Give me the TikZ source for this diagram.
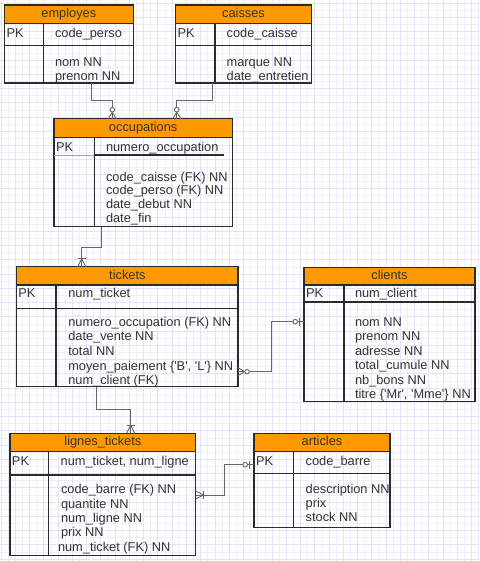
\documentclass[tikz,border=0pt]{standalone}
\usepackage{fontspec}
\newfontfamily\erfont{Liberation Sans}
\definecolor{bordc}{HTML}{2B2B2B}
\definecolor{hdrc}{HTML}{FF9900}
\definecolor{txtc}{HTML}{333333}
\definecolor{connc}{HTML}{666666}
\definecolor{gmajc}{HTML}{E2E2F8}
\definecolor{gminc}{HTML}{EFEFFB}
\tikzset{
  tbl/.style={draw=bordc, line width=1.2pt, inner sep=0pt, outer sep=0pt, anchor=north west},
  hdr/.style={draw=bordc, fill=hdrc, line width=1.2pt, inner sep=0pt, outer sep=0pt, anchor=north west,
    text=txtc, font=\erfont\fontsize{12.8}{14}\selectfont, text height=9.2pt, text depth=2.6pt},
  sep/.style={draw=bordc, line width=1.2pt},
  thinsep/.style={draw=gray!70, line width=0.8pt},
  txt/.style={inner sep=0pt, outer sep=0pt, anchor=base west, text=txtc, font=\erfont\fontsize{12.8}{14}\selectfont},
  conn/.style={draw=connc, line width=0.9pt},
  mk/.style={draw=connc, line width=0.9pt},
  gmaj/.style={draw=gmajc, line width=0.8pt},
  gmin/.style={draw=gminc, line width=0.6pt},
  zmany/.pic={\draw[mk] (0pt,4pt) -- (6.5pt,0pt) -- (0pt,-4pt); \draw[mk, fill=white] (9pt,0pt) circle (2.3pt);},
  omany/.pic={\draw[mk] (0pt,4pt) -- (8pt,0pt) -- (0pt,-4pt); \draw[mk] (8pt,4pt) -- (8pt,-4pt);},
  zone/.pic={\draw[mk] (5pt,4pt) -- (5pt,-4pt); \draw[mk, fill=white] (8.8pt,0pt) circle (2.3pt);},
}
% #1 name, #2 x, #3 y, #4 w, #5 header h, #6 pk bottom, #7 h, #8 divider, #9 title
\newcommand\ertable[9]{%
  \node[tbl, minimum width=#4pt, minimum height=#7pt] (#1) at (#2,#3) {};
  \node[hdr, minimum width=#4pt, minimum height=#5pt] (#1-h) at (#2,#3) {#9};
  \draw[sep] ([yshift=-#6pt]#1.north west) -- ([yshift=-#6pt]#1.north east);
  \draw[sep] ([xshift=#8pt,yshift=-#5pt]#1.north west) -- ([xshift=#8pt]#1.south west);
}
% #1 name prefix, #2 x, #3 y centre of first line, #4 line step, #5 list
\newcommand\attrs[5]{%
  \foreach \myt [count=\myi] in {#5}{\node[txt] (#1-\myi) at (#2,{#3+4.5+(\myi-1)*#4}) {\myt};}%
}
\begin{document}
\begin{tikzpicture}[x=1pt,y=-1pt]
\useasboundingbox (0,0) rectangle (479,561);
\fill[white] (0,0) rectangle (479,561);
% grid
\foreach \gi in {0,...,33}{\draw[gmin] ({8.13+\gi*14.26},0) -- ({8.13+\gi*14.26},561);}
\foreach \gi in {0,...,39}{\draw[gmin] (0,{10.13+\gi*14.26}) -- (479,{10.13+\gi*14.26});}
\foreach \gi in {0,...,33}{\draw[gmaj] ({1+\gi*14.26},0) -- ({1+\gi*14.26},561);}
\foreach \gi in {0,...,39}{\draw[gmaj] (0,{3+\gi*14.26}) -- (479,{3+\gi*14.26});}

% employes
\ertable{emp}{4.3}{5}{129}{18.3}{40.7}{78}{39}{employes}
\node[txt] (emp-pk) at (6.7,37.8) {PK};
\attrs{emp-k}{55}{33.3}{14}{code\_perso}
\attrs{emp-a}{55}{61.7}{14.3}{nom NN, prenom NN}

% caisses
\ertable{cai}{175.7}{5}{135.6}{18.3}{40.5}{78}{39.3}{caisses}
\node[txt] (cai-pk) at (177.7,37.8) {PK};
\attrs{cai-k}{226.7}{33.3}{14}{code\_caisse}
\attrs{cai-a}{226.7}{61.7}{14.3}{marque NN, date\_entretien}

% occupations
\node[tbl, minimum width=178.3pt, minimum height=108pt] (occ) at (54,118.7) {};
\node[hdr, minimum width=178.3pt, minimum height=18.6pt] (occ-h) at (54,118.7) {occupations};
\draw[sep] ([xshift=40.3pt,yshift=-18.6pt]occ.north west) -- ([xshift=40.3pt]occ.south west);
\draw[thinsep] ([yshift=-36.3pt]occ.north west) -- ([xshift=40.3pt,yshift=-36.3pt]occ.north west);
\draw[sep] ([xshift=40.3pt,yshift=-36.3pt]occ.north west) -- ([xshift=170pt,yshift=-36.3pt]occ.north west);
\node[txt] (occ-pk) at (56,151.2) {PK};
\attrs{occ-k}{106}{146.7}{14}{numero\_occupation}
\attrs{occ-a}{106}{176.7}{13.7}{code\_caisse (FK) NN, code\_perso (FK) NN, date\_debut NN, date\_fin}

% tickets
\ertable{tk}{16.7}{266.7}{221.3}{18.3}{41.6}{120}{39.3}{tickets}
\node[txt] (tk-pk) at (18.3,297.8) {PK};
\attrs{tk-k}{68.3}{293.3}{14}{num\_ticket}
\attrs{tk-a}{68.3}{321.7}{14.6}{numero\_occupation (FK) NN, date\_vente NN, total NN, {moyen\_paiement \{'B', 'L'\} NN}, num\_client (FK)}

% clients
\ertable{cl}{304}{267.3}{171}{17.7}{34.7}{134.4}{40}{clients}
\node[txt] (cl-pk) at (306,297.8) {PK};
\attrs{cl-k}{355}{293.3}{14}{num\_client}
\attrs{cl-a}{355}{321.7}{14.45}{nom NN, prenom NN, adresse NN, total\_cumule NN, nb\_bons NN, {titre \{'Mr', 'Mme'\} NN}}

% lignes_tickets
\ertable{lt}{10}{433.3}{185.7}{18.4}{41.7}{122.4}{38.7}{lignes\_tickets}
\node[txt] (lt-pk) at (12,465.2) {PK};
\node[txt] (lt-k) at (60.7,465.2) {num\_ticket, num\_ligne};
\attrs{lt-a}{61}{489.3}{14.35}{code\_barre (FK) NN, quantite NN, num\_ligne NN, prix NN}
\node[txt] (lt-a5) at (58,551.2) {num\_ticket (FK) NN};

% articles
\ertable{ar}{254}{433.3}{136}{18.4}{40}{94}{39.3}{articles}
\node[txt] (ar-pk) at (256,465.2) {PK};
\attrs{ar-k}{305.7}{460.7}{14}{code\_barre}
\attrs{ar-a}{305.7}{489.3}{14}{description NN, prix, stock NN}

% connector end points
\coordinate (c1s) at ([xshift=87.4pt]emp.south west);
\coordinate (c1t) at ([xshift=58.3pt]occ.north west);
\coordinate (c2s) at ([xshift=36.6pt]cai.south west);
\coordinate (c2t) at ([xshift=122.7pt]occ.north west);
\coordinate (c3s) at ([xshift=47.7pt]occ.south west);
\coordinate (c3t) at ([xshift=65pt]tk.north west);
\coordinate (c4s) at ([yshift=-105pt]tk.north east);
\coordinate (c4t) at ([yshift=-54.4pt]cl.north west);
\coordinate (c5s) at ([xshift=79.3pt]tk.south west);
\coordinate (c5t) at ([xshift=120.7pt]lt.north west);
\coordinate (c6s) at ([yshift=-61.7pt]lt.north east);
\coordinate (c6t) at ([yshift=-31.4pt]ar.north west);

\draw[conn] (c1s) -- ++(0,17) -| (c1t);
\draw[conn] (c2s) -- ++(0,17) -| (c2t);
\draw[conn] (c3s) -- ++(0,20.6) -| (c3t);
\draw[conn] (c4s) -- ++(33.7,0) |- (c4t);
\draw[conn] (c5s) -- ++(0,22.6) -| (c5t);
\draw[conn] (c6s) -- ++(28.6,0) |- (c6t);

\pic[rotate=90] at (c1t) {zmany};
\pic[rotate=90] at (c2t) {zmany};
\pic[rotate=90] at (c3t) {omany};
\pic at (c4s) {zmany};
\pic[rotate=180] at (c4t) {zone};
\pic[rotate=90] at (c5t) {omany};
\pic at (c6s) {omany};
\pic[rotate=180] at (c6t) {zone};
\end{tikzpicture}
\end{document}
